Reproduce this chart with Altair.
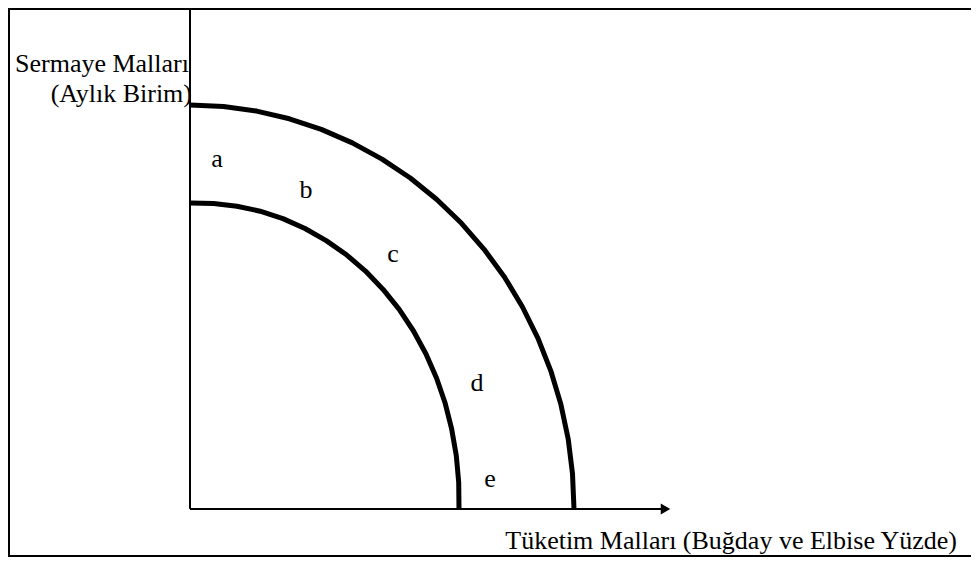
import altair as alt
import pandas as pd

# Outer production possibility frontier (units from the origin)
outer_x = [0, 33.5, 66.7, 99.4, 131.3, 162.3, 192.0, 220.3, 246.8, 271.5,
           294.1, 314.6, 332.5, 348.0, 360.8, 370.9, 378.2, 382.5, 384]
outer_y = [404, 402.5, 397.9, 390.2, 379.6, 366.1, 349.9, 331.0, 309.5, 285.7,
           259.7, 231.7, 202.0, 170.7, 138.2, 104.6, 70.1, 35.2, 0]
# Inner production possibility frontier
inner_x = [0, 23.6, 46.9, 70.1, 92.9, 115.0, 136.2, 156.5, 175.5, 193.1,
           209.2, 223.5, 236.0, 246.6, 255.2, 261.7, 266.3, 268.7, 269]
inner_y = [306, 305.6, 302.8, 297.8, 290.4, 280.5, 268.4, 254.2, 237.9, 219.6,
           199.6, 178.0, 155.0, 130.8, 105.7, 79.8, 53.4, 26.8, 0]

# Region letters and where they sit
letters = ["a", "b", "c", "d", "e"]
letter_x = [27, 116, 203, 287, 300]
letter_y = [342, 311, 247, 118, 22]

y_title = ["Sermaye Malları", "(Aylık Birim)"]
x_title = "Tüketim Malları (Buğday ve Elbise Yüzde)"

W, H = 963, 549
X_DOM = [-182, 781]
Y_DOM = [-48, 501]
FONT = "Liberation Serif"

xs = alt.Scale(domain=X_DOM, nice=False, zero=False)
ys = alt.Scale(domain=Y_DOM, nice=False, zero=False)


def X(field="x"):
    return alt.X(f"{field}:Q", scale=xs, axis=None)


def Y(field="y"):
    return alt.Y(f"{field}:Q", scale=ys, axis=None)


rows = []
for i, (x, y) in enumerate(zip(outer_x, outer_y)):
    rows.append({"curve": "outer", "i": i, "x": x, "y": y})
for i, (x, y) in enumerate(zip(inner_x, inner_y)):
    rows.append({"curve": "inner", "i": i, "x": x, "y": y})
curves_df = pd.DataFrame(rows)

curves = alt.Chart(curves_df).mark_line(
    color="black", strokeWidth=5, strokeCap="butt", strokeJoin="round"
).encode(x=X(), y=Y(), detail="curve:N", order="i:Q")

# axes
axis_df = pd.DataFrame({
    "x": [0, 0], "y": [0, 0], "x2": [0, 473], "y2": [499, 0]
})
axes = alt.Chart(axis_df).mark_rule(color="black", strokeWidth=2).encode(
    x=X(), y=Y(), x2="x2:Q", y2="y2:Q"
)
arrow = alt.Chart(pd.DataFrame({"x": [475.5], "y": [0]})).mark_point(
    shape="triangle-right", filled=True, color="black", size=121, opacity=1
).encode(x=X(), y=Y())

# frame
frame_df = pd.DataFrame({
    "x": [-182, -181, -182], "y": [500, -48, -47], "x2": [781, -181, 781], "y2": [500, 501, -47]
})
frame = alt.Chart(frame_df).mark_rule(color="black", strokeWidth=2).encode(
    x=X(), y=Y(), x2="x2:Q", y2="y2:Q"
)

ytitle_df = pd.DataFrame({"t": y_title, "x": [-1, 2], "y": [437, 407]})
ytitle = alt.Chart(ytitle_df).mark_text(
    font=FONT, fontSize=26, align="right", baseline="alphabetic", color="black"
).encode(x=X(), y=Y(), text="t:N")

xtitle = alt.Chart(pd.DataFrame({"t": [x_title], "x": [767], "y": [-40]})).mark_text(
    font=FONT, fontSize=26, align="right", baseline="alphabetic", color="black"
).encode(x=X(), y=Y(), text="t:N")

letters_df = pd.DataFrame({"t": letters, "x": letter_x, "y": letter_y})
letter_marks = alt.Chart(letters_df).mark_text(
    font=FONT, fontSize=26, align="center", baseline="alphabetic", color="black"
).encode(x=X(), y=Y(), text="t:N")

chart = alt.layer(frame, axes, arrow, curves, ytitle, xtitle, letter_marks).properties(
    width=W, height=H, padding=0, autosize=alt.AutoSizeParams(type="none"),
    background="white"
).configure_view(stroke=None)

chart.save("out.html", embed_options={"renderer": "svg", "actions": False})
